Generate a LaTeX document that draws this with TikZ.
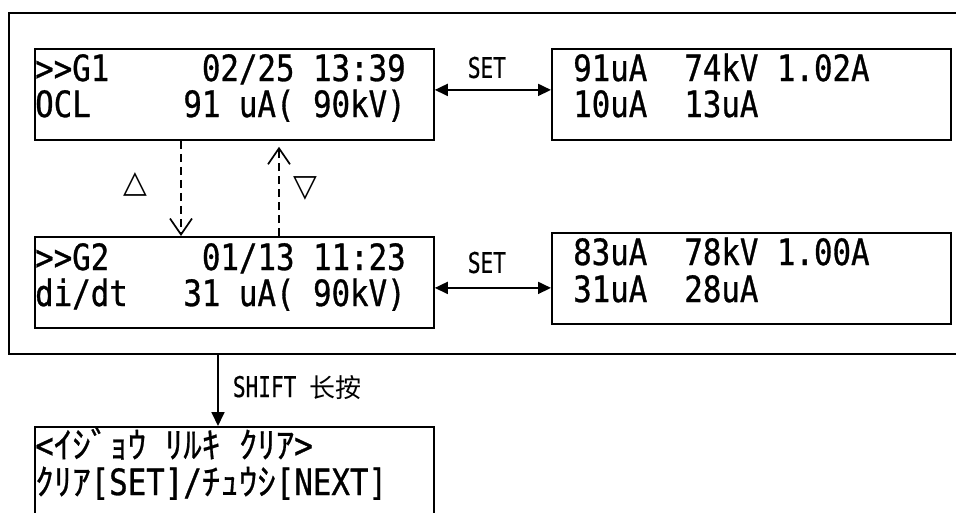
\documentclass[tikz,border=0pt]{standalone}
\usepackage{fontspec}
\newfontfamily\lcdmono[FakeStretch=0.85,FakeBold=0.8]{DejaVu Sans Mono}
\newfontfamily\lcdsmall[FakeStretch=0.74,FakeBold=0.6]{DejaVu Sans Mono}
\newfontfamily\kanafont[FakeStretch=1.028,FakeBold=0.6]{Noto Sans CJK JP}
\newfontfamily\zhfont{Noto Sans CJK SC}
\newfontfamily\symfont{DejaVu Sans}
\newcommand\lcdfont{\lcdmono\fontsize{36.2}{40}\selectfont}
\newcommand\smallfont{\lcdsmall\fontsize{28.5}{30}\selectfont}
\newcommand\kn[1]{{\kanafont\fontsize{36}{40}\selectfont #1}}
\usetikzlibrary{arrows.meta}
\begin{document}
\begin{tikzpicture}[x=1pt,y=-1pt,
  frame/.style={line width=1.8pt},
  lcd/.style={draw, line width=1.8pt, rectangle, inner sep=0pt,
    minimum width=399pt, minimum height=91pt, anchor=north west},
  lcdtext/.style={anchor=base west, inner sep=0pt, font=\lcdfont},
  setarrow/.style={line width=1.8pt,
    {Triangle[length=13pt,width=12pt]}-{Triangle[length=13pt,width=12pt]}},
  setlabel/.style={anchor=base, inner sep=0pt, font=\smallfont},
  navarrow/.style={line width=1.5pt, dash pattern=on 8pt off 5pt,
    -{Straight Barb[length=16pt,width=22pt,line width=1.7pt]}},
  shiftarrow/.style={line width=1.8pt, -{Triangle[length=14pt,width=13pt]}},
  symb/.style={inner sep=0pt, font=\symfont\fontsize{31}{32}\selectfont}
]
\useasboundingbox (0,0) rectangle (956,512);
\clip (0,0) rectangle (956,512);

% outer frame
\draw[frame] (956,13) -- (9,13) -- (9,354) -- (956,354);

% boxes
\node[lcd] (g1) at (34,48) {};
\node[lcd] (r1) at (551,48) {};
\node[lcd] (g2) at (34,236) {};
\node[lcd] (r2) at (551,232) {};
\node[lcd, minimum height=130pt] (clr) at (34,426) {};

% texts
\node[lcdtext] (g1a) at ([xshift=1pt,yshift=-33pt]g1.north west) {>{}>G1~~~~~02/25~13:39};
\node[lcdtext] (g1b) at ([xshift=1pt,yshift=-69pt]g1.north west) {OCL~~~~~91~uA(~90kV)};
\node[lcdtext] (r1a) at ([xshift=22pt,yshift=-33pt]r1.north west) {91uA~~74kV~1.02A};
\node[lcdtext] (r1b) at ([xshift=22pt,yshift=-69pt]r1.north west) {10uA~~13uA};
\node[lcdtext] (g2a) at ([xshift=1pt,yshift=-34pt]g2.north west) {>{}>G2~~~~~01/13~11:23};
\node[lcdtext] (g2b) at ([xshift=1pt,yshift=-70pt]g2.north west) {di/dt~~~31~uA(~90kV)};
\node[lcdtext] (r2a) at ([xshift=22pt,yshift=-33pt]r2.north west) {83uA~~78kV~1.00A};
\node[lcdtext] (r2b) at ([xshift=22pt,yshift=-70pt]r2.north west) {31uA~~28uA};
\node[lcdtext] (clra) at ([xshift=1pt,yshift=-32pt]clr.north west)
  {<\kn{ｲｼﾞｮｳ}~\kn{ﾘﾙｷ}~\kn{ｸﾘｱ}>};
\node[lcdtext] (clrb) at ([xshift=1pt,yshift=-69pt]clr.north west)
  {\kn{ｸﾘｱ}[SET]/\kn{ﾁｭｳｼ}[NEXT]};

% SET connectors
\coordinate (s1) at ([yshift=4.5pt]g1.east);
\draw[setarrow] (s1) -- node[setlabel, xshift=-6pt, yshift=12pt] (set1) {SET} (s1 -| r1.west);
\coordinate (s2) at ([yshift=-5.5pt]g2.east);
\draw[setarrow] (s2) -- node[setlabel, xshift=-6pt, yshift=15pt] (set2) {SET} (s2 -| r2.west);

% navigation connectors
\draw[navarrow] ([xshift=147pt]g1.south west) -- ([xshift=147pt]g2.north west);
\draw[navarrow] ([xshift=245pt]g2.north west) -- ([xshift=245pt,yshift=-6pt]g1.south west);
\node[symb] (upkey) at (135,184) {△};
\node[symb] (dnkey) at (305,188) {▽};

% SHIFT connector
\coordinate (sb) at (218,354);
\draw[shiftarrow] (sb) -- node[anchor=base west, inner sep=0pt, xshift=14pt, yshift=-7pt, font=\smallfont] (shiftlbl)
  {SHIFT {\zhfont\fontsize{26}{30}\selectfont 长按}} (sb |- clr.north);
\end{tikzpicture}
\end{document}
